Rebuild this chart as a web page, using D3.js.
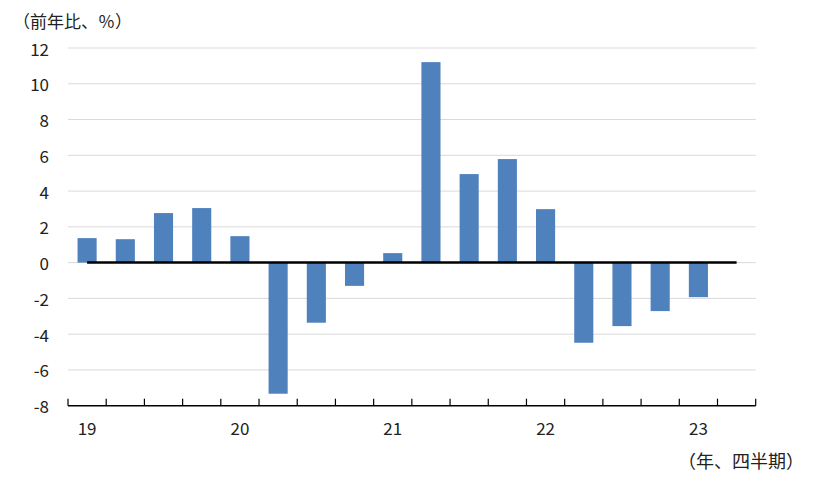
<!DOCTYPE html>
<html><head><meta charset="utf-8">
<script src="https://cdn.jsdelivr.net/npm/d3@7"></script>
<style>body{margin:0;background:#fff}svg{display:block}</style>
</head><body>
<svg id="c" width="826" height="490"></svg>
<script>
const quarters = ["19Q1","19Q2","19Q3","19Q4","20Q1","20Q2","20Q3","20Q4","21Q1","21Q2","21Q3","21Q4","22Q1","22Q2","22Q3","22Q4","23Q1","23Q2"];
const values = [1.37,1.31,2.77,3.05,1.48,-7.33,-3.36,-1.30,0.53,11.21,4.95,5.79,2.99,-4.48,-3.55,-2.71,-1.93,null];
const yearLabels = ["19","20","21","22","23"];
const yTicks = [-8,-6,-4,-2,0,2,4,6,8,10,12];
const yTitle = "（前年比、％）";
const xTitle = "（年、四半期）";

const svg = d3.select("#c");
const font = "'Noto Sans CJK JP', 'Noto Sans', sans-serif";
const L = 68, R = 755.7, T = 48, B = 405.7;
const x = d3.scaleBand().domain(quarters).range([L, R]).padding(0);
const y = d3.scaleLinear().domain([-8, 12]).range([B, T]);

// gridlines
svg.append("g").selectAll("line").data(yTicks.filter(d => d > -8)).join("line")
  .attr("x1", L).attr("x2", R).attr("y1", d => y(d)).attr("y2", d => y(d))
  .attr("stroke", "#d9d9d9").attr("stroke-width", 1);

// y labels
svg.append("g").selectAll("text").data(yTicks).join("text")
  .attr("x", 49).attr("y", d => y(d)).attr("text-anchor", "end")
  .attr("dominant-baseline", "central")
  .attr("font-family", font).attr("font-size", 17).attr("fill", "#222")
  .text(d => d);

// bars
const bw = x.bandwidth() * 0.5;
svg.append("g").selectAll("rect").data(quarters.map((q, i) => ({q, v: values[i]})).filter(d => d.v !== null)).join("rect")
  .attr("x", d => x(d.q) + (x.bandwidth() - bw) / 2)
  .attr("width", bw)
  .attr("y", d => y(Math.max(0, d.v)))
  .attr("height", d => Math.abs(y(d.v) - y(0)))
  .attr("fill", "#4f81bd");

// zero line
svg.append("line")
  .attr("x1", x(quarters[0]) + x.bandwidth() / 2)
  .attr("x2", x(quarters[quarters.length - 1]) + x.bandwidth() / 2)
  .attr("y1", y(0)).attr("y2", y(0))
  .attr("stroke", "#000").attr("stroke-width", 2.5);

// bottom axis
svg.append("line").attr("x1", L).attr("x2", R).attr("y1", B).attr("y2", B)
  .attr("stroke", "#000").attr("stroke-width", 1.5);
const bounds = quarters.map(q => x(q)).concat([R]);
svg.append("g").selectAll("line").data(bounds).join("line")
  .attr("x1", d => d).attr("x2", d => d).attr("y1", B).attr("y2", B - 7)
  .attr("stroke", "#000").attr("stroke-width", 1.2);

// year labels under Q1
svg.append("g").selectAll("text").data(yearLabels).join("text")
  .attr("x", d => x(d + "Q1") + x.bandwidth() / 2)
  .attr("y", 435).attr("text-anchor", "middle")
  .attr("font-family", font).attr("font-size", 17).attr("fill", "#222")
  .text(d => d);

svg.append("text").attr("x", 13).attr("y", 28)
  .attr("font-family", font).attr("font-size", 17).attr("fill", "#222").text(yTitle);
svg.append("text").attr("x", 804).attr("y", 468).attr("text-anchor", "end")
  .attr("font-family", font).attr("font-size", 18).attr("fill", "#222").text(xTitle);
</script>
</body></html>
